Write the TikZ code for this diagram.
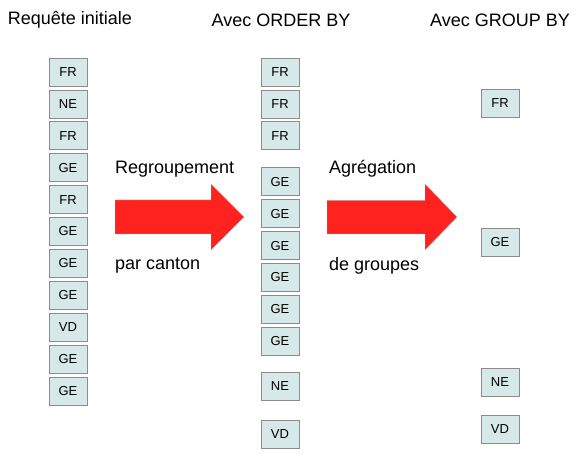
\documentclass[tikz,border=0pt]{standalone}
\usepackage{fontspec}
\setmainfont{Liberation Sans}
\usepackage{tikz}
\usetikzlibrary{positioning}

\definecolor{cellfill}{RGB}{214,232,232}
\definecolor{celldraw}{RGB}{140,140,140}
\definecolor{bigred}{RGB}{255,34,30}

\begin{document}
\begin{tikzpicture}[
  x=1pt, y=-1pt,
  node distance=3.3pt,
  cell/.style={rectangle, draw=celldraw, fill=cellfill, semithick, minimum width=38pt, minimum height=28pt, inner sep=0pt, font=\fontsize{13}{15}\selectfont},
  title/.style={font=\fontsize{18}{21}\selectfont},
  note/.style={anchor=west, inner sep=0pt, font=\fontsize{18}{21}\selectfont},
  fatarrow/.style={draw=gray!60, fill=bigred, thin, line join=miter}
]
\useasboundingbox (0,0) rectangle (579,457);

% titles
\node[title] (tInit) at (70,20) {Requête initiale};
\node[title] (tOrder) at (281,20) {Avec ORDER BY};
\node[title] (tGroup) at (500,20) {Avec GROUP BY};

% initial query
\node[cell] (i1) at (68,72) {FR};
\node[cell, below=of i1] (i2) {NE};
\node[cell, below=of i2] (i3) {FR};
\node[cell, below=of i3] (i4) {GE};
\node[cell, below=of i4] (i5) {FR};
\node[cell, below=of i5] (i6) {GE};
\node[cell, below=of i6] (i7) {GE};
\node[cell, below=of i7] (i8) {GE};
\node[cell, below=of i8] (i9) {VD};
\node[cell, below=of i9] (i10) {GE};
\node[cell, below=of i10] (i11) {GE};

% order by
\node[cell] (o1) at (280,72) {FR};
\node[cell, below=of o1] (o2) {FR};
\node[cell, below=of o2] (o3) {FR};
\node[cell, below=17.4pt of o3] (o4) {GE};
\node[cell, below=of o4] (o5) {GE};
\node[cell, below=of o5] (o6) {GE};
\node[cell, below=of o6] (o7) {GE};
\node[cell, below=of o7] (o8) {GE};
\node[cell, below=of o8] (o9) {GE};
\node[cell, below=16.5pt of o9] (o10) {NE};
\node[cell, below=19.5pt of o10] (o11) {VD};

% group by
\node[cell] (g1) at (500,103) {FR};
\node[cell] (g2) at (500,242) {GE};
\node[cell] (g3) at (500,382) {NE};
\node[cell] (g4) at (500,429) {VD};

% big red arrows
\draw[fatarrow] (115,200) -- (211,200) -- (211,184) -- (244,217) -- (211,250) -- (211,234) -- (115,234) -- cycle;
\draw[fatarrow] (327,200.5) -- (425,200.5) -- (425,184) -- (457,217) -- (425,250) -- (425,234) -- (327,234) -- cycle;

\node[note] (lA1) at (115,169) {Regroupement};
\node[note] (lA2) at (115,266) {par canton};
\node[note] (lB1) at (329,169) {Agrégation};
\node[note] (lB2) at (329,266) {de groupes};

\end{tikzpicture}
\end{document}
